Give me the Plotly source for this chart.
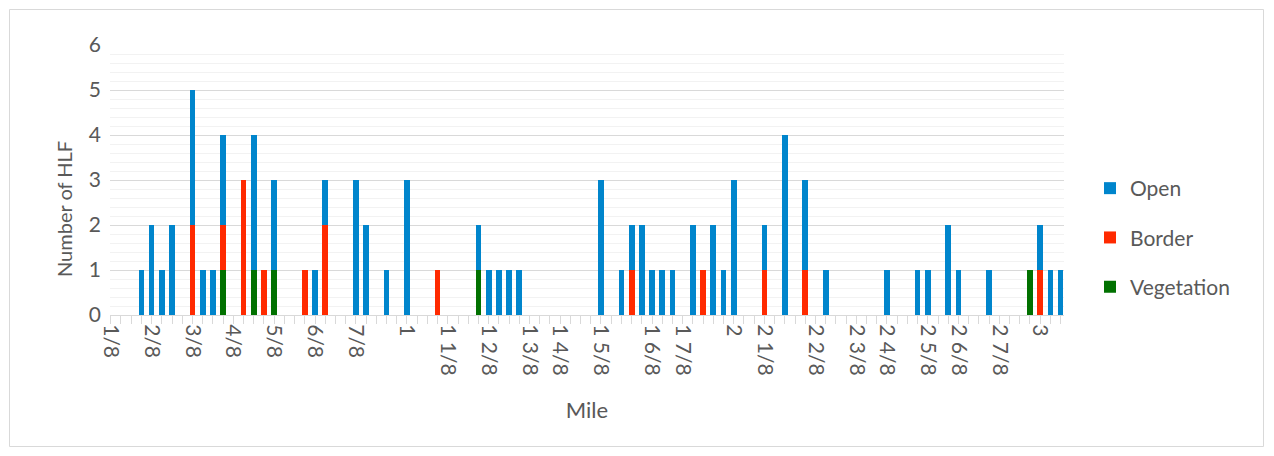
import plotly.graph_objects as go

# ---- data (category index = position along the mile axis, 1/32-mile steps) ----
n_categories = 94
categories = list(range(n_categories))

open_counts = [0, 0, 0, 1, 2, 1, 2, 0, 3, 1,
               1, 2, 0, 0, 3, 0, 2, 0, 0, 0,
               1, 1, 0, 0, 3, 2, 0, 1, 0, 3,
               0, 0, 0, 0, 0, 0, 1, 1, 1, 1,
               1, 0, 0, 0, 0, 0, 0, 0, 3, 0,
               1, 1, 2, 1, 1, 1, 0, 2, 0, 2,
               1, 3, 0, 0, 1, 0, 4, 0, 2, 0,
               1, 0, 0, 0, 0, 0, 1, 0, 0, 1,
               1, 0, 2, 1, 0, 0, 1, 0, 0, 0,
               0, 1, 1, 1]

border_counts = [0, 0, 0, 0, 0, 0, 0, 0, 2, 0,
                 0, 1, 0, 3, 0, 1, 0, 0, 0, 1,
                 0, 2, 0, 0, 0, 0, 0, 0, 0, 0,
                 0, 0, 1, 0, 0, 0, 0, 0, 0, 0,
                 0, 0, 0, 0, 0, 0, 0, 0, 0, 0,
                 0, 1, 0, 0, 0, 0, 0, 0, 1, 0,
                 0, 0, 0, 0, 1, 0, 0, 0, 1, 0,
                 0, 0, 0, 0, 0, 0, 0, 0, 0, 0,
                 0, 0, 0, 0, 0, 0, 0, 0, 0, 0,
                 0, 1, 0, 0]

vegetation_counts = [0, 0, 0, 0, 0, 0, 0, 0, 0, 0,
                     0, 1, 0, 0, 1, 0, 1, 0, 0, 0,
                     0, 0, 0, 0, 0, 0, 0, 0, 0, 0,
                     0, 0, 0, 0, 0, 0, 1, 0, 0, 0,
                     0, 0, 0, 0, 0, 0, 0, 0, 0, 0,
                     0, 0, 0, 0, 0, 0, 0, 0, 0, 0,
                     0, 0, 0, 0, 0, 0, 0, 0, 0, 0,
                     0, 0, 0, 0, 0, 0, 0, 0, 0, 0,
                     0, 0, 0, 0, 0, 0, 0, 0, 0, 0,
                     1, 0, 0, 0]

label_positions = [0, 4, 8, 12, 16, 20, 24, 29, 33, 37, 41, 44,
                   48, 53, 56, 61, 64, 69, 73, 76, 80, 83, 87, 91]
label_texts = ["1/8", "2/8", "3/8", "4/8", "5/8", "6/8", "7/8", "1",
               "1 1/8", "1 2/8", "1 3/8", "1 4/8", "1 5/8", "1 6/8", "1 7/8",
               "2", "2 1/8", "2 2/8", "2 3/8", "2 4/8", "2 5/8", "2 6/8",
               "2 7/8", "3"]

tick_labels = [""] * n_categories
for p, t in zip(label_positions, label_texts):
    tick_labels[p] = t

# ---- style ----
FONT = "Lato"
TXT = "#595959"
GRID = "#d9d9d9"
MINOR = "#f2f2f2"
C_OPEN = "#0085CC"
C_BORDER = "#FF2A00"
C_VEG = "#017100"

fig = go.Figure()
fig.add_trace(go.Bar(x=categories, y=vegetation_counts, name="Vegetation",
                     marker=dict(color=C_VEG, line=dict(width=0)),
                     legendgroup="v", legendrank=3))
fig.add_trace(go.Bar(x=categories, y=border_counts, name="Border",
                     marker=dict(color=C_BORDER, line=dict(width=0)),
                     legendgroup="b", legendrank=2))
fig.add_trace(go.Bar(x=categories, y=open_counts, name="Open",
                     marker=dict(color=C_OPEN, line=dict(width=0)),
                     legendgroup="o", legendrank=1))

W, H = 1274, 456
L, R, T, B = 110, 210, 45, 141
pw, ph = W - L - R, H - T - B

def px2paper_x(px):
    return (px - L) / pw

def px2paper_y(py):
    return (H - B - py) / ph

xrange_ = [-0.07, 93.33]

fig.update_layout(
    width=W, height=H,
    margin=dict(l=L, r=R, t=T, b=B, pad=0),
    barmode="stack",
    bargap=0.44,
    plot_bgcolor="white",
    paper_bgcolor="white",
    font=dict(family=FONT, size=21, color=TXT),
    showlegend=True,
    legend=dict(
        traceorder="grouped",
        tracegroupgap=19,
        x=px2paper_x(1090), xanchor="left",
        y=px2paper_y(168), yanchor="top",
        font=dict(family=FONT, size=21, color=TXT),
        bgcolor="rgba(0,0,0,0)",
        itemclick=False,
    ),
    xaxis=dict(
        range=xrange_,
        tickmode="array",
        tickvals=categories,
        ticktext=tick_labels,
        tickangle=90,
        ticks="outside",
        ticklen=8,
        tickwidth=1,
        tickcolor=GRID,
        ticklabelstandoff=-4,
        showline=True,
        linecolor=GRID,
        linewidth=1,
        showgrid=False,
        zeroline=False,
        tickfont=dict(family=FONT, size=21, color=TXT),
        title=dict(text="Mile", font=dict(family=FONT, size=22, color=TXT), standoff=27),
    ),
    xaxis2=dict(
        overlaying="x",
        anchor="y",
        side="bottom",
        range=xrange_,
        tickmode="array",
        tickvals=categories,
        ticks="inside",
        ticklen=7,
        tickwidth=1,
        tickcolor=GRID,
        showticklabels=False,
        showgrid=False,
        showline=False,
        zeroline=False,
    ),
    yaxis=dict(
        range=[0, 6],
        dtick=1,
        showgrid=True,
        gridcolor=GRID,
        gridwidth=1,
        zeroline=False,
        showline=False,
        ticks="",
        ticklabelstandoff=8,
        tickfont=dict(family=FONT, size=21, color=TXT),
        minor=dict(dtick=0.2, showgrid=True, gridcolor=MINOR, gridwidth=1),
    ),
    annotations=[dict(text="Number of HLF", textangle=-90, showarrow=False,
                      xref="paper", yref="paper",
                      x=px2paper_x(64), y=px2paper_y(209),
                      xanchor="center", yanchor="middle",
                      font=dict(family=FONT, size=20, color=TXT))],
    shapes=[dict(type="rect", xref="paper", yref="paper",
                 x0=px2paper_x(9.5), x1=px2paper_x(1263.5),
                 y0=px2paper_y(446.5), y1=px2paper_y(9.5),
                 line=dict(color=GRID, width=1), layer="below")],
)

fig.write_html("out.html", config={"displayModeBar": False},
               post_script="document.body.style.margin='0';document.body.style.overflow='hidden';")
